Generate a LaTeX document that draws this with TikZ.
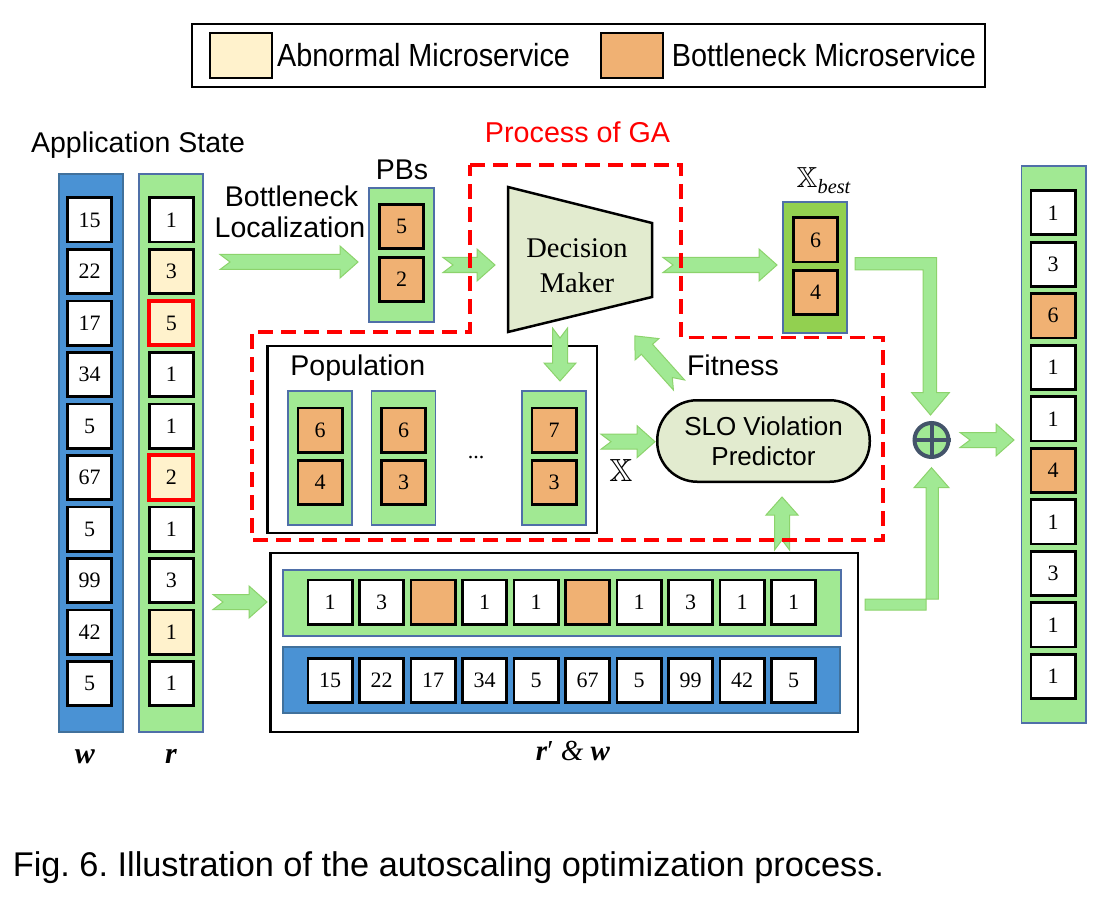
\documentclass[tikz,border=0pt]{standalone}
\usepackage{fontspec}
\usepackage{amssymb}
\usepackage{graphicx}
\setmainfont{Liberation Serif}
\newfontfamily\arial{Liberation Sans}
\frenchspacing
\definecolor{wblue}{HTML}{4A92D4}
\definecolor{bluebd}{HTML}{41719C}
\definecolor{lgreen}{HTML}{A1E993}
\definecolor{greenbd}{HTML}{4F6FA8}
\definecolor{dgreen}{HTML}{92D050}
\definecolor{abn}{HTML}{FFF2CC}
\definecolor{bot}{HTML}{F0B173}
\definecolor{dmfill}{HTML}{E2EBCF}
\definecolor{arrfill}{HTML}{A1E994}
\definecolor{arrbd}{HTML}{8CD36C}
\definecolor{plusc}{HTML}{44546A}
\newcommand{\blockarr}[4]{%
\begin{scope}[shift={(#1,#2)},rotate=#3]
\filldraw[barr] (0,-7.5) -- ({#4-18},-7.5) -- ({#4-18},-16) -- (#4,0) -- ({#4-18},16) -- ({#4-18},7.5) -- (0,7.5) -- (10,0) -- cycle;
\end{scope}}
\begin{document}
\begin{tikzpicture}[x=1pt,y=-1pt,
  cell/.style={draw=black, line width=2.8pt, fill=white, minimum width=44.2pt, minimum height=44.2pt, inner sep=0pt, font=\fontsize{22}{24}\selectfont},
  ab/.style={cell, fill=abn},
  bn/.style={cell, fill=bot},
  redc/.style={cell, fill=abn, draw=red, line width=4pt},
  bluecol/.style={fill=wblue, draw=bluebd, line width=1.3pt},
  greencol/.style={fill=lgreen, draw=greenbd, line width=1.3pt},
  barr/.style={fill=arrfill, draw=arrbd, line width=1pt},
  sans/.style={font=\arial\fontsize{28.5}{31}\selectfont},
  serif/.style={font=\fontsize{28.5}{35}\selectfont},
  blk/.style={draw=black, line width=2.5pt}]
\useasboundingbox (0,0) rectangle (1106,904);
\fill[white] (0,0) rectangle (1106,904);

% ---------- legend ----------
\draw[line width=2pt] (191.5,24) rectangle (985.4,86.7);
\node[draw, line width=2pt, fill=abn, minimum width=62pt, minimum height=44.7pt] (lg1) at (241,55.7) {};
\node[draw, line width=2pt, fill=bot, minimum width=62pt, minimum height=44.7pt] (lg2) at (632,55.7) {};
\node[anchor=base west, inner sep=0pt, font=\arial\fontsize{32}{36}\selectfont] (lt1) at (277,66.5) {\scalebox{0.9}[1]{Abnormal Microservice}};
\node[anchor=base west, inner sep=0pt, font=\arial\fontsize{32}{36}\selectfont] (lt2) at (671.6,66.5) {\scalebox{0.9}[1]{Bottleneck Microservice}};

% ---------- application state ----------
\node[sans, anchor=base, inner sep=0pt] (appst) at (138,153) {Application State};
\draw[bluecol] (59,174) rectangle (123,732);
\draw[greencol] (139,174) rectangle (203,732);
\foreach \v [count=\i from 0] in {15,22,17,34,5,67,5,99,42,5}
  \node[cell] (w\i) at (89.5,{220+51.5*\i}) {\v};
\node[cell]  (r0) at (171.3,220)   {1};
\node[ab]    (r1) at (171.3,271.5) {3};
\node[redc]  (r2) at (171.3,323)   {5};
\node[cell]  (r3) at (171.3,374.5) {1};
\node[cell]  (r4) at (171.3,426)   {1};
\node[redc]  (r5) at (171.3,477.5) {2};
\node[cell]  (r6) at (171.3,529)   {1};
\node[cell]  (r7) at (171.3,580.5) {3};
\node[ab]    (r8) at (171.3,632)   {1};
\node[cell]  (r9) at (171.3,683.5) {1};
\node[anchor=base, inner sep=0pt, font=\fontsize{30}{32}\selectfont] (wlab) at (85,763) {\textbf{\textit{w}}};
\node[anchor=base, inner sep=0pt, font=\fontsize{30}{32}\selectfont] (rlab) at (171,763) {\textbf{\textit{r}}};

% ---------- bottleneck localization ----------
\node[sans, anchor=base, inner sep=0pt] (bl1) at (291.5,207) {Bottleneck};
\node[sans, anchor=base, inner sep=0pt] (bl2) at (290,238) {Localization};
\blockarr{220}{262}{0}{138}

% ---------- PBs ----------
\node[sans, anchor=base, inner sep=0pt] (pbl) at (402,180) {PBs};
\draw[greencol] (369,188) rectangle (434,322);
\node[bn] (pb1) at (401.5,226.5) {5};
\node[bn] (pb2) at (401.5,279.5) {2};
\blockarr{443}{265}{0}{52}

% ---------- decision maker ----------
\draw[blk, fill=dmfill] (508,187) -- (652,223) -- (652,297) -- (508,332) -- cycle;
\coordinate (dm) at (577,260);
\node[serif, anchor=base, inner sep=0pt] (dm1) at (577,257.5) {Decision};
\node[serif, anchor=base, inner sep=0pt] (dm2) at (577,292.5) {Maker};
\node[anchor=base, inner sep=0pt, text=red, font=\arial\fontsize{28.7}{32}\selectfont] (ga) at (577.5,143) {Process of GA};
\blockarr{663}{265}{0}{114}

% ---------- X best ----------
\node[anchor=base, inner sep=0pt, font=\fontsize{29}{32}\selectfont] (xbl) at (824,188) {$\mathbb{X}$\textsubscript{\textit{best}}};
\draw[greencol, fill=dgreen] (783,202) rectangle (847,333);
\node[bn] (xb1) at (815.5,240) {6};
\node[bn] (xb2) at (815.5,292.5) {4};

% ---------- population ----------
\draw[blk] (267.4,346) rectangle (597,533);
\node[sans, anchor=base, inner sep=0pt] (popl) at (357.8,375) {Population};
\draw[greencol] (288,391) rectangle (352,525);
\draw[greencol] (371.5,391) rectangle (435.5,525);
\draw[greencol] (522,391) rectangle (586,525);
\node[bn] (p11) at (320,430) {6};
\node[bn] (p12) at (320,482.5) {4};
\node[bn] (p21) at (403.5,430) {6};
\node[bn] (p22) at (403.5,482.5) {3};
\node[bn] (p31) at (554,430) {7};
\node[bn] (p32) at (554,482.5) {3};
\node[inner sep=0pt, font=\fontsize{22}{24}\selectfont] (dots) at (476,458) {...};
\blockarr{560}{328}{-90}{53}

% ---------- SLO predictor ----------
\node[blk, fill=dmfill, rounded corners=40pt, minimum width=212.5pt, minimum height=81.5pt, align=center, inner sep=0pt, font=\arial\fontsize{26}{30}\selectfont] (slo) at (763.5,441) {SLO Violation\\Predictor};
\blockarr{601}{441.7}{0}{54}
\node[anchor=base, inner sep=0pt, font=\fontsize{32}{34}\selectfont] (xl) at (621,481) {$\mathbb{X}$};
\blockarr{679}{385}{131.9}{66}
\node[sans, anchor=base, inner sep=0pt] (fit) at (733,375) {Fitness};
\blockarr{782}{550}{90}{53}

% ---------- r' & w ----------
\draw[blk] (270.6,553) rectangle (858,732);
\draw[greencol] (283,570) rectangle (841,636);
\draw[bluecol] (283,647) rectangle (840,713);
\node[cell] (g0) at (330,602) {1};
\node[cell] (g1) at (381.5,602) {3};
\node[bn]   (g2) at (433,602) {};
\node[cell] (g3) at (484.5,602) {1};
\node[cell] (g4) at (536,602) {1};
\node[bn]   (g5) at (587.5,602) {};
\node[cell] (g6) at (639,602) {1};
\node[cell] (g7) at (690.5,602) {3};
\node[cell] (g8) at (742,602) {1};
\node[cell] (g9) at (793.5,602) {1};
\foreach \v [count=\i from 0] in {15,22,17,34,5,67,5,99,42,5}
  \node[cell] (b\i) at ({330+51.5*\i},680.4) {\v};
\node[anchor=base, inner sep=0pt, font=\fontsize{29}{32}\selectfont] (rwlab) at (573,760) {\textbf{\textit{r}}′ \textit{\&} \textbf{\textit{w}}};
\blockarr{213}{602}{0}{54}

% ---------- combine ----------
\filldraw[barr] (855,257.7) -- (936.7,257.7) -- (936.7,392.7) -- (949.3,392.7) -- (930.5,415) -- (911.7,392.7) -- (923,392.7) -- (923,270) -- (855,270) -- cycle;
\filldraw[barr] (865,610) -- (926,610) -- (926,487.7) -- (914,487.7) -- (931.5,467.7) -- (949,487.7) -- (938.3,487.7) -- (938.3,599) -- (865,599) -- cycle;
\node[circle, draw=plusc, line width=4pt, fill=arrfill, minimum size=34pt, inner sep=0pt] (plus) at (931.5,440) {};
\draw[plusc, line width=4pt] (plus.north) -- (plus.south) (plus.west) -- (plus.east);
\blockarr{960}{440}{0}{54}

% ---------- result column ----------
\draw[greencol] (1021.7,166) rectangle (1086,723);
\node[cell] (o0) at (1053,212.8) {1};
\node[cell] (o1) at (1053,264.3) {3};
\node[bn]   (o2) at (1053,315.8) {6};
\node[cell] (o3) at (1053,367.3) {1};
\node[cell] (o4) at (1053,418.8) {1};
\node[bn]   (o5) at (1053,470.3) {4};
\node[cell] (o6) at (1053,521.8) {1};
\node[cell] (o7) at (1053,573.3) {3};
\node[cell] (o8) at (1053,624.8) {1};
\node[cell] (o9) at (1053,676.3) {1};

% ---------- GA region ----------
\draw[red, line width=3.5pt, dash pattern=on 15pt off 8pt] (470,165) -- (681,165) -- (681,337.5) -- (883,337.5) -- (883,540) -- (252,540) -- (252,332) -- (470,332) -- cycle;

% ---------- caption ----------
\node[anchor=base west, inner sep=0pt, font=\arial\fontsize{34.3}{38}\selectfont] (cap) at (12.6,876.7) {Fig. 6. Illustration of the autoscaling optimization process.};
\end{tikzpicture}
\end{document}
